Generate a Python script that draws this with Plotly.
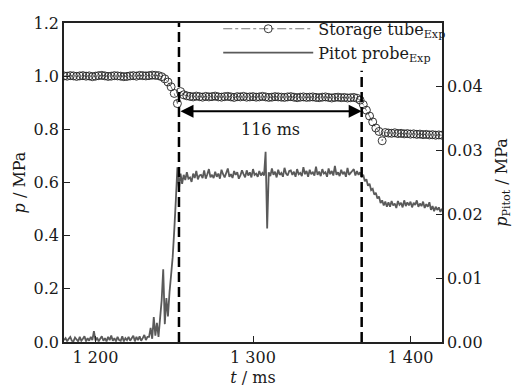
import numpy as np
import plotly.graph_objects as go

# ---------------- data ----------------
storage_t = np.arange(1180, 1421, 2)  # ms
storage_p = [
    1.001, 1.000, 1.002, 1.001, 0.999, 1.001, 1.002, 1.000, 1.001, 0.998,
    1.000, 1.002, 1.003, 1.001, 0.999, 1.000, 1.002, 1.001, 1.000, 0.998,
    0.999, 1.001, 1.002, 1.000, 1.003, 1.002, 1.001, 1.002, 1.004, 1.003,
    1.002,
    0.998, 0.990, 0.978, 0.960, 0.935, 0.897, 0.942, 0.930, 0.926,
    0.924, 0.922, 0.925, 0.923, 0.921, 0.924, 0.922, 0.923, 0.925, 0.922,
    0.921, 0.923, 0.924, 0.922, 0.920, 0.923, 0.922, 0.924, 0.921, 0.922,
    0.923, 0.921, 0.922, 0.924, 0.922, 0.920, 0.921, 0.923, 0.922, 0.921,
    0.920, 0.922, 0.923, 0.921, 0.919, 0.921, 0.922, 0.920, 0.921, 0.922,
    0.920, 0.919, 0.921, 0.922, 0.920, 0.918, 0.920, 0.921, 0.919, 0.920,
    0.918, 0.919, 0.920, 0.917,
    0.910, 0.893, 0.872, 0.850, 0.828, 0.805, 0.792, 0.757, 0.788,
    0.786, 0.785, 0.787, 0.784, 0.785, 0.783, 0.784, 0.782, 0.783, 0.781,
    0.782, 0.780, 0.781, 0.779, 0.780, 0.778, 0.779, 0.778,
]

pitot_t = np.arange(1180, 1421, 1)  # ms
pitot_p = [
    # 1180-1233 baseline
    0.0003, 0.0006, 0.0001, 0.0005, 0.0008, 0.0002, 0.0001, 0.0007, 0.0004, 0.0001,
    0.0008, 0.0002, 0.0005, 0.0009, 0.0001, 0.0006, 0.0002, 0.0008, 0.0003, 0.0017,
    0.0002, 0.0007, 0.0001, 0.0005, 0.0009, 0.0002, 0.0006, 0.0001, 0.0008, 0.0003,
    0.0010, 0.0002, 0.0006, 0.0001, 0.0008, 0.0003, 0.0002, 0.0009, 0.0001, 0.0006,
    0.0003, 0.0008, 0.0002, 0.0006, 0.0010, 0.0001, 0.0008, 0.0003, 0.0009, 0.0002,
    0.0006, 0.0011, 0.0003, 0.0008,
    # 1234-1255 rise
    0.0008, 0.0022, 0.0005, 0.0039, 0.0010, 0.0030, 0.0008, 0.0037, 0.0065, 0.0114,
    0.0028, 0.0069, 0.0040, 0.0078, 0.0105, 0.0133, 0.0175, 0.0222, 0.0274, 0.0240,
    0.0264, 0.0248,
    # 1256-1367 plateau
    0.0262, 0.0254, 0.0266, 0.0256, 0.0258, 0.0251, 0.0264, 0.0257, 0.0268, 0.0255,
    0.0261, 0.0262, 0.0257, 0.0269, 0.0256, 0.0263, 0.0271, 0.0258, 0.0262, 0.0257,
    0.0267, 0.0259, 0.0264, 0.0256, 0.0270, 0.0263, 0.0258, 0.0265, 0.0272, 0.0259,
    0.0263, 0.0257, 0.0268, 0.0262, 0.0266, 0.0256, 0.0261, 0.0269, 0.0263, 0.0258,
    0.0269, 0.0261, 0.0266, 0.0258, 0.0271, 0.0262, 0.0264, 0.0259, 0.0268, 0.0261,
    0.0265, 0.0261, 0.0298, 0.0178, 0.0266, 0.0260, 0.0272, 0.0262, 0.0267, 0.0258,
    0.0270, 0.0262, 0.0265, 0.0259, 0.0273, 0.0264, 0.0261, 0.0268, 0.0269, 0.0262,
    0.0267, 0.0259, 0.0271, 0.0263, 0.0265, 0.0260, 0.0274, 0.0263, 0.0268, 0.0259,
    0.0270, 0.0263, 0.0266, 0.0261, 0.0275, 0.0262, 0.0267, 0.0260, 0.0271, 0.0264,
    0.0266, 0.0259, 0.0272, 0.0263, 0.0268, 0.0261, 0.0276, 0.0262, 0.0266, 0.0260,
    0.0270, 0.0263, 0.0267, 0.0259, 0.0273, 0.0262, 0.0265, 0.0268, 0.0271, 0.0261,
    0.0268, 0.0262,
    # 1368-1385 decline
    0.0266, 0.0258, 0.0262, 0.0252, 0.0255, 0.0245, 0.0248, 0.0238, 0.0240, 0.0231,
    0.0234, 0.0225, 0.0228, 0.0218, 0.0222, 0.0214, 0.0220, 0.0212,
    # 1386-1420 plateau
    0.0219, 0.0212, 0.0221, 0.0214, 0.0217, 0.0210, 0.0221, 0.0215, 0.0218, 0.0211,
    0.0222, 0.0213, 0.0219, 0.0214, 0.0220, 0.0211, 0.0218, 0.0215, 0.0222, 0.0212,
    0.0217, 0.0213, 0.0220, 0.0210, 0.0216, 0.0212, 0.0219, 0.0207, 0.0213, 0.0205,
    0.0212, 0.0207, 0.0211, 0.0204, 0.0209,
]

window_start = 1253   # ms
window_end = 1369     # ms
window_label = "116 ms"
arrow_level = 0.868   # MPa
label_level = 0.80    # MPa

x_tickvals = [1200, 1300, 1400]
x_ticktext = ["1 200", "1 300", "1 400"]
y2_tickvals = [0.0, 0.01, 0.02, 0.03, 0.04]
y2_ticktext = ["0.00", "0.01", "0.02", "0.03", "0.04"]

FONT = "DejaVu Serif"
FS = 16
INK = "#1a1a1a"

fig = go.Figure()

fig.add_trace(go.Scatter(
    x=pitot_t, y=pitot_p, yaxis="y2", mode="lines",
    name="Pitot probe<sub>Exp</sub>",
    line=dict(color="#5a5a5a", width=1.8, simplify=False),
))

fig.add_trace(go.Scatter(
    x=storage_t, y=storage_p, mode="lines+markers",
    name="Storage tube<sub>Exp</sub>",
    line=dict(color="#555555", width=0.8, dash="dashdot"),
    marker=dict(symbol="circle-open", size=8, color="#222222", line=dict(width=0.9)),
))

fig.add_shape(type="line", x0=window_start, x1=window_start, y0=0, y1=1.2,
              xref="x", yref="y", line=dict(color="black", width=2.5, dash="10px,5px"))
fig.add_shape(type="line", x0=window_end, x1=window_end, y0=0, y1=1.02,
              xref="x", yref="y", line=dict(color="black", width=2.5, dash="10px,5px"))

fig.add_annotation(x=window_end, y=arrow_level, ax=window_start, ay=arrow_level,
                   xref="x", yref="y", axref="x", ayref="y", text="",
                   showarrow=True, arrowhead=2, startarrowhead=2, arrowside="end+start",
                   arrowsize=1.3, arrowwidth=2, arrowcolor="black", standoff=0, startstandoff=0)
fig.add_annotation(x=(window_start + window_end) / 2, y=label_level, xref="x", yref="y",
                   text=window_label, showarrow=False, font=dict(family=FONT, size=FS, color=INK))

axis_common = dict(showline=True, linecolor="#222222", linewidth=1.5, ticks="inside",
                   ticklen=6, tickwidth=1.3, tickcolor="#222222", showgrid=False, zeroline=False,
                   automargin=False, tickfont=dict(family=FONT, size=FS, color=INK))

fig.update_layout(
    width=516, height=392,
    margin=dict(l=64, r=74, t=17, b=50),
    paper_bgcolor="white", plot_bgcolor="white",
    font=dict(family=FONT, size=FS, color=INK),
    showlegend=True,
    legend=dict(x=0.408, y=1.035, xanchor="left", yanchor="top", bgcolor="rgba(255,255,255,0)",
                font=dict(family=FONT, size=FS, color=INK), itemwidth=90,
                traceorder="reversed", tracegroupgap=0),
    xaxis=dict(range=[1180, 1420], tickvals=x_tickvals, ticktext=x_ticktext, mirror=True,
               title=dict(text="<i>t</i> / ms", font=dict(family=FONT, size=FS, color=INK), standoff=6),
               **axis_common),
    yaxis=dict(range=[0, 1.2], dtick=0.2, tickformat=".1f",
               title=dict(text="<i>p</i> / MPa", font=dict(family=FONT, size=FS, color=INK), standoff=4),
               **axis_common),
    yaxis2=dict(range=[0, 0.05], overlaying="y", side="right", anchor="x",
                tickvals=y2_tickvals, ticktext=y2_ticktext,
                title=dict(text="<i>p</i><sub>Pitot</sub> / MPa", font=dict(family=FONT, size=FS, color=INK), standoff=14),
                **axis_common),
)

fig.write_html("out.html")
